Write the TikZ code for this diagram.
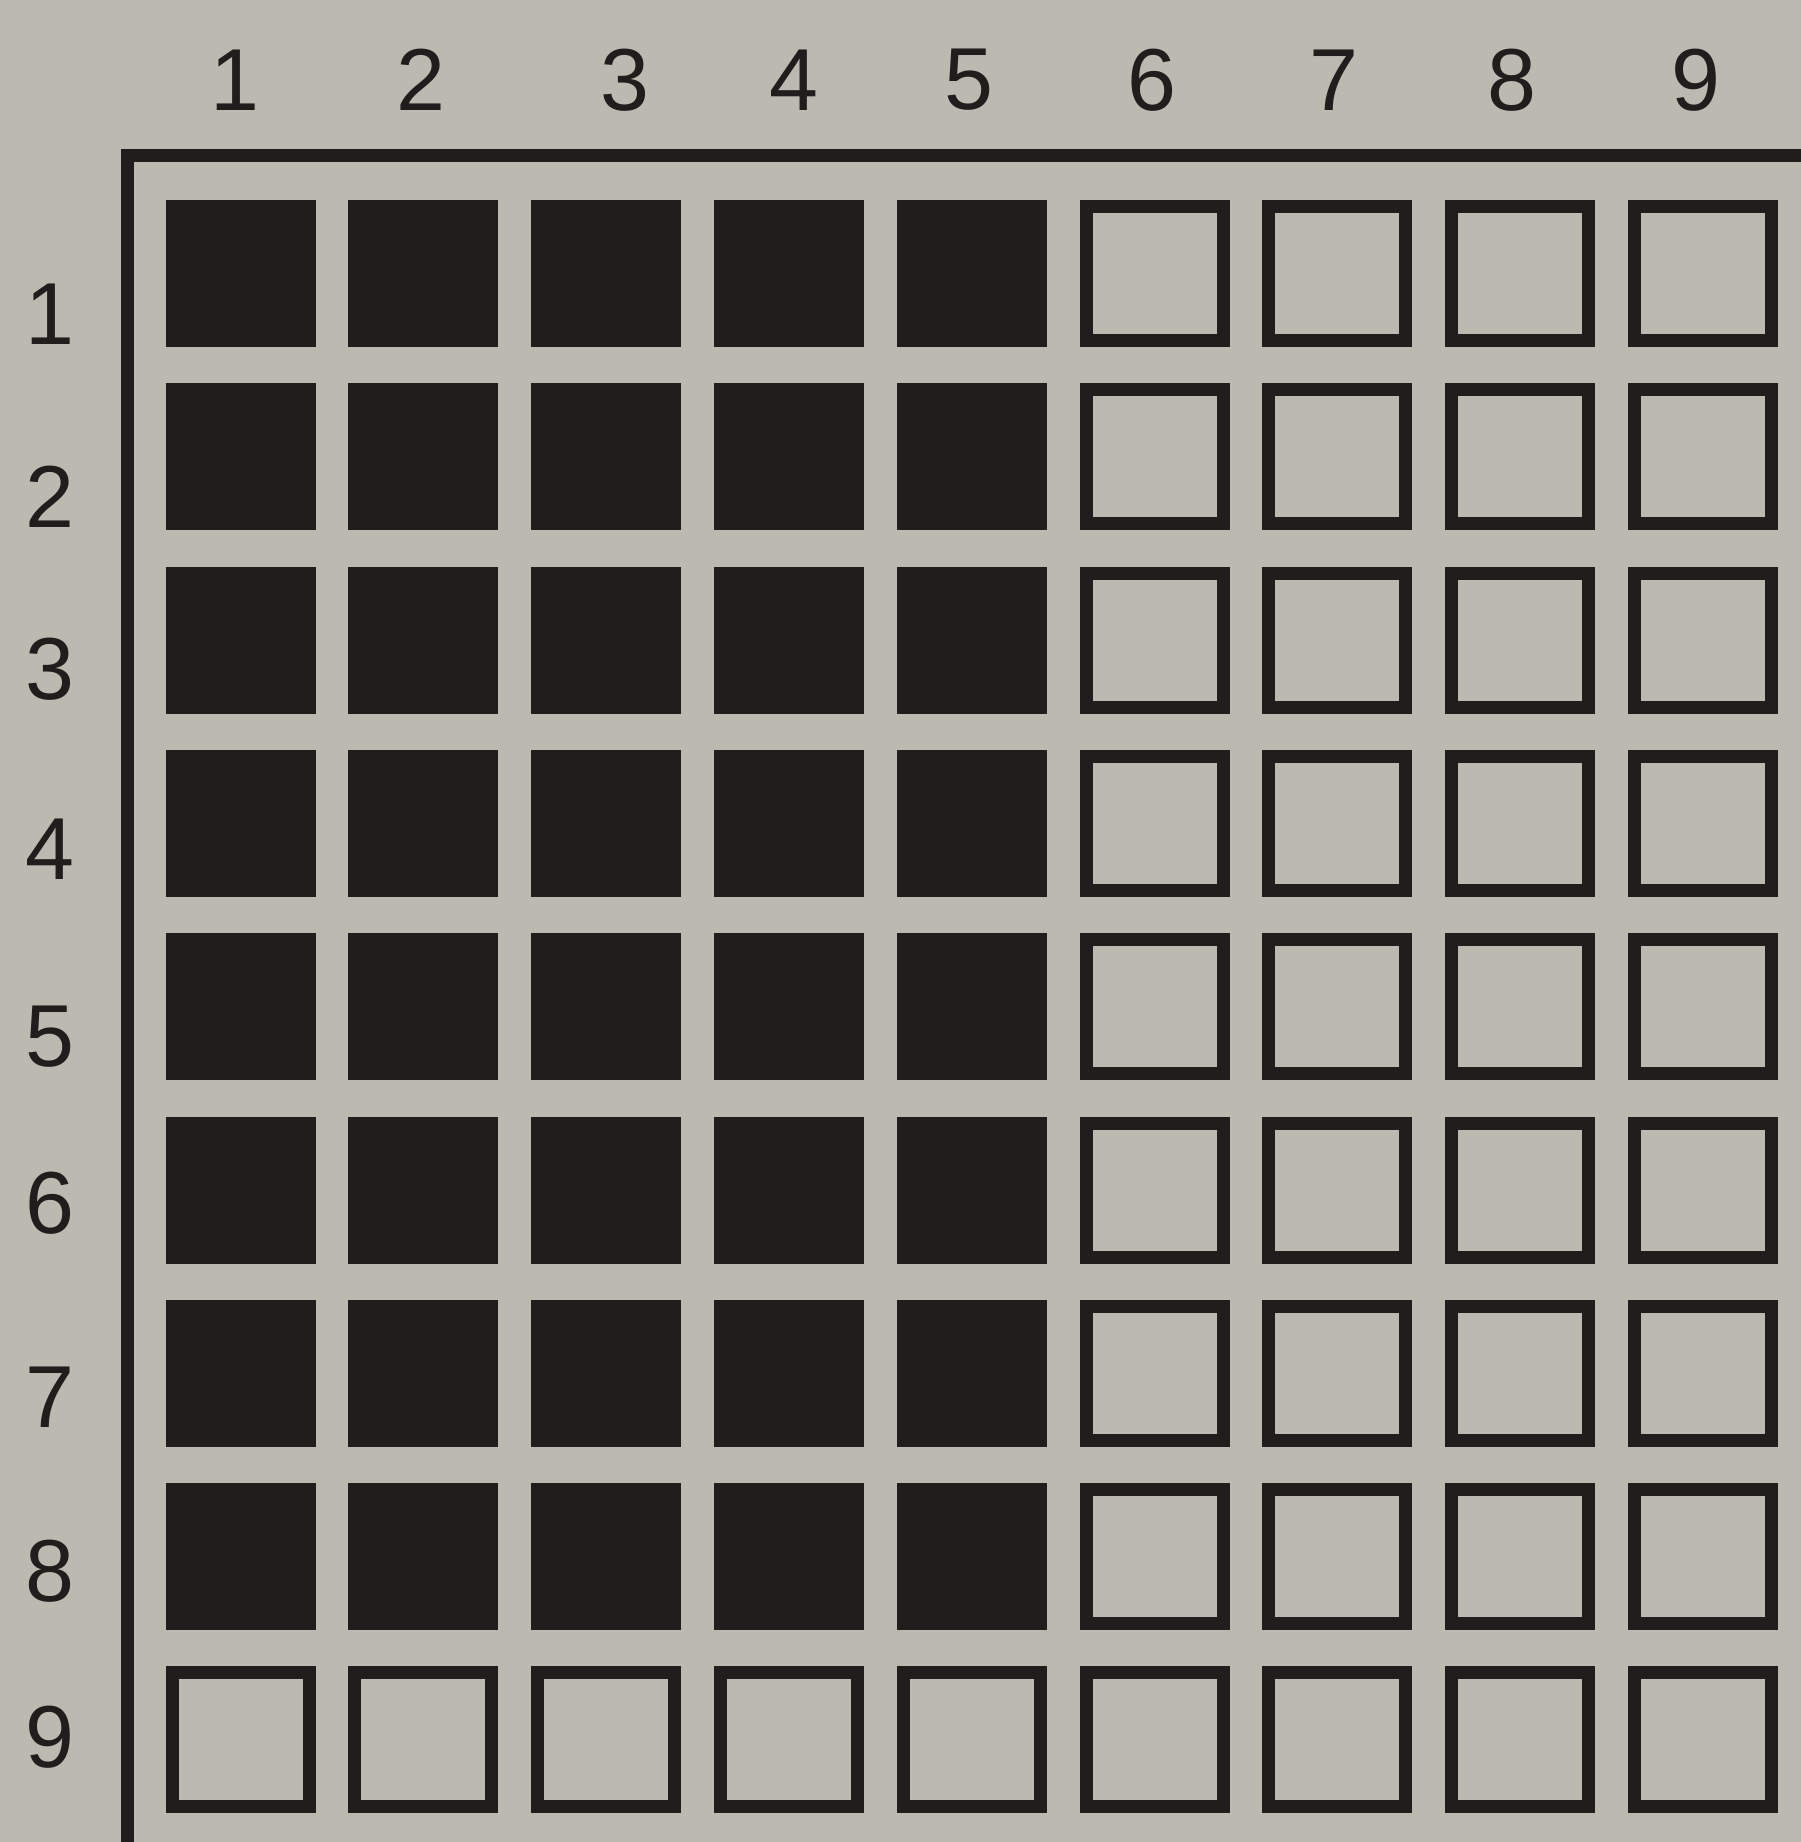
\documentclass[tikz,border=0pt]{standalone}
\usepackage{fontspec}
\setmainfont{Liberation Sans}
\definecolor{paper}{RGB}{188,185,177}
\definecolor{ink}{RGB}{33,29,29}
\tikzset{
  lbl/.style={inner sep=0pt, text=ink, font=\fontsize{88}{100}\selectfont},
  emptycell/.style={draw=ink, line width=13pt, minimum width=137pt, minimum height=134pt, inner sep=0pt, outer sep=0pt},
  fullcell/.style={emptycell, fill=ink},
  framerule/.style={draw=ink, line width=13pt}
}
\begin{document}
\begin{tikzpicture}[x=1pt,y=-1pt]
\fill[paper] (0,0) rectangle (1801,1842);
\useasboundingbox (0,0) rectangle (1801,1842);
% column labels
\foreach \i/\x in {1/235,2/421,3/625,4/794,5/969,6/1152,7/1334,8/1512,9/1696}
  \node[lbl] (c\i) at (\x,80) {\i};
% row labels
\foreach \j/\y in {1/314,2/497,3/669,4/849,5/1037,6/1203,7/1397,8/1571,9/1737}
  \node[lbl] (r\j) at (50,\y) {\j};
% frame
\coordinate (fbot) at (127,1842);
\coordinate (fcorner) at (127,155);
\coordinate (fright) at (1801,155);
\draw[framerule] (fbot) -- (fcorner) -- (fright);
% cells
\foreach \j in {1,...,9}{
  \foreach \i in {1,...,9}{
    \pgfmathsetmacro{\cx}{240.6+(\i-1)*182.8}
    \pgfmathsetmacro{\cy}{273.5+(\j-1)*183.3}
    \pgfmathtruncatemacro{\isfull}{(\i<6)&&(\j<9)}
    \ifnum\isfull=1
      \node[fullcell] (cell-\j-\i) at (\cx,\cy) {};
    \else
      \node[emptycell] (cell-\j-\i) at (\cx,\cy) {};
    \fi
  }
}
\end{tikzpicture}
\end{document}
